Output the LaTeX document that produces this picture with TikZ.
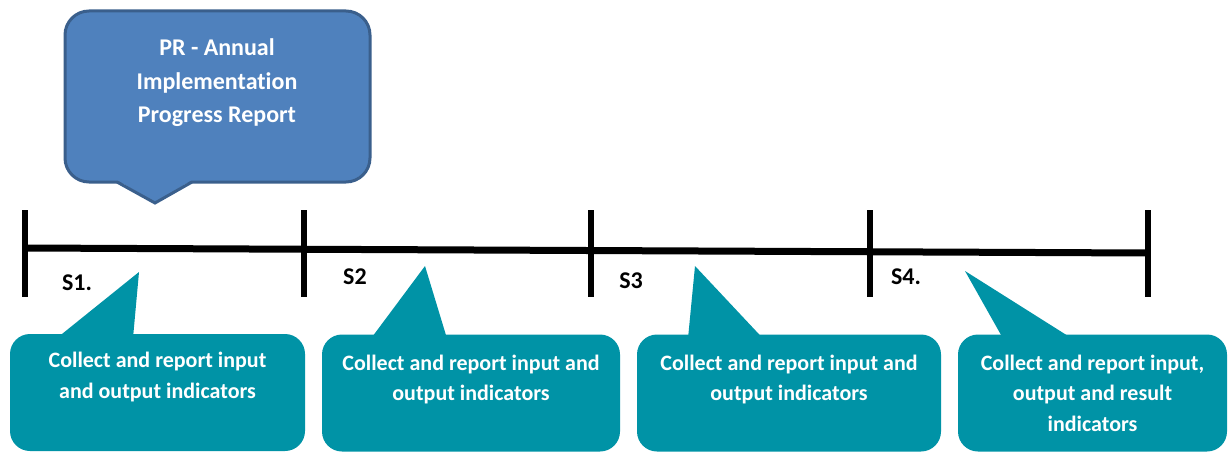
\documentclass[tikz,border=0pt]{standalone}
\usepackage{xcolor}
\usepackage{tikz}
\usetikzlibrary{calc}
\usetikzlibrary{positioning}
\usepackage{fontspec}
\setmainfont{Carlito}[Ligatures=NoCommon]
\definecolor{prblue}{HTML}{4F81BD}
\definecolor{prline}{HTML}{3A5F8C}
\definecolor{sgteal}{HTML}{0093A6}
\tikzset{
 prbox/.style={draw=prline, line width=3pt, fill=prblue, rounded corners=24pt, minimum width=305pt, minimum height=171pt, inner sep=0pt, outer sep=0pt},
 prtext/.style={text=white, font=\bfseries\fontsize{24}{33.5}\selectfont, align=center, inner sep=0pt},
 sgbox/.style={fill=sgteal, rounded corners=20pt, minimum height=117pt, inner sep=0pt, outer sep=0pt},
 sgtext/.style={text=white, font=\bfseries\fontsize{22}{30.5}\selectfont, align=center, inner sep=0pt},
 stage/.style={font=\bfseries\fontsize{24}{26}\selectfont, inner sep=0pt}
}

\begin{document}
\begin{tikzpicture}[x=1pt,y=-1pt]
\useasboundingbox (0,0) rectangle (1229,452);

\node[prbox] (pr) at (217.5,96.5) {};
\coordinate (prtip) at (155,203);
\fill[prblue] ($(pr.south west)+(52,-2)$) -- (prtip) -- ($(pr.south west)+(127,-2)$) -- cycle;
\draw[prline, line width=3pt] ($(pr.south west)+(52,0)$) -- (prtip) -- ($(pr.south west)+(127,0)$);
\node[prtext] (prt) at (217,83) {PR - Annual\\Implementation\\Progress Report};

\foreach \i/\x in {1/25,2/304,3/591,4/870,5/1148} {
 \coordinate (t\i) at (\x,{248+5*(\x-25)/1123});
 \draw[line width=6pt] (\x,210) -- (\x,297);
}
\draw[line width=7pt] (t1) -- (t5);

\node[stage] (s1) at (77,283) {S1.};
\node[stage] (s2) at (355,277) {S2};
\node[stage] (s3) at (631,281) {S3};
\node[stage] (s4) at (906,277) {S4.};

\node[sgbox, minimum width=295pt] (b1) at (157.5,392.5) {};
\node[sgbox, minimum width=298pt] (b2) at (471,393) {};
\node[sgbox, minimum width=304pt] (b3) at (789,393) {};
\node[sgbox, minimum width=269pt] (b4) at (1092.5,393) {};
\foreach \b/\l/\r/\tx/\ty in {b1/47/123/139/272, b2/49/125/425/266, b3/51/126/695/266, b4/45/114/965/271} {
 \coordinate (tip\b) at (\tx,\ty);
 \fill[sgteal] ($(\b.north west)+(\l,4)$) -- (tip\b) -- ($(\b.north west)+(\r,4)$) -- cycle;
}
\node[sgtext, below=18pt of b1.north] (c1) {Collect and report input\\and output indicators};
\node[sgtext, below=20pt of b2.north] (c2) {Collect and report input and\\output indicators};
\node[sgtext, below=20pt of b3.north] (c3) {Collect and report input and\\output indicators};
\node[sgtext, below=20pt of b4.north] (c4) {Collect and report input,\\output and result\\indicators};
\end{tikzpicture}
\end{document}
